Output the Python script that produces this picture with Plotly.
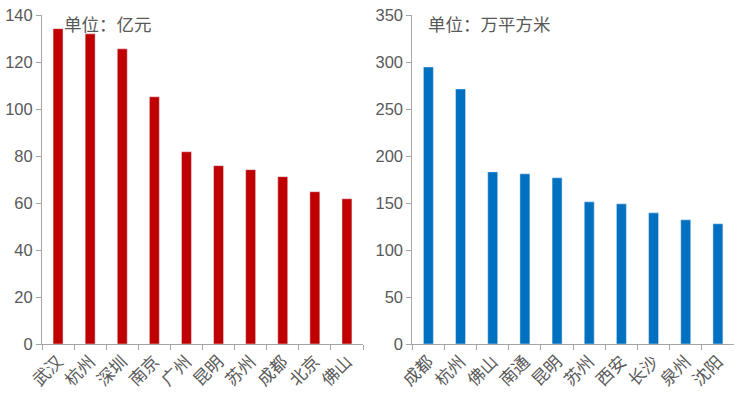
import plotly.graph_objects as go
from plotly.subplots import make_subplots

cities_left = ["武汉", "杭州", "深圳", "南京", "广州", "昆明", "苏州", "成都", "北京", "佛山"]
values_left = [134.2, 132.0, 125.6, 105.2, 81.8, 75.9, 74.2, 71.2, 64.8, 61.8]
cities_right = ["成都", "杭州", "佛山", "南通", "昆明", "苏州", "西安", "长沙", "泉州", "沈阳"]
values_right = [294.7, 271.3, 183.1, 181.0, 176.8, 151.2, 149.1, 139.5, 132.1, 127.9]
unit_left = "单位：亿元"
unit_right = "单位：万平方米"

FONT = "Liberation Sans, Arial, Noto Sans CJK SC, sans-serif"
GREY = "#595959"
AXIS = "#a6a6a6"

W, H = 745, 406
L, R, T, B = 42, 11, 15, 62
PW = W - L - R
PH = H - T - B

fig = make_subplots(rows=1, cols=2)
fig.add_trace(go.Bar(x=cities_left, y=values_left, marker_color="#c00000"), row=1, col=1)
fig.add_trace(go.Bar(x=cities_right, y=values_right, marker_color="#0070c0"), row=1, col=2)

fig.update_layout(
    width=W, height=H,
    margin=dict(l=L, r=R, t=T, b=B),
    plot_bgcolor="white", paper_bgcolor="white",
    showlegend=False, bargap=0.69,
    font=dict(family=FONT, size=16, color=GREY),
)
fig.update_xaxes(
    type="category", tickangle=-45, showline=True, linecolor=AXIS, linewidth=1,
    ticks="outside", tickson="boundaries", ticklen=5, tickcolor=AXIS,
    showgrid=False, tickfont=dict(size=17, color=GREY), automargin=False,
)
fig.update_yaxes(
    showline=True, linecolor=AXIS, linewidth=1, ticks="outside", ticklen=5,
    tickcolor=AXIS, showgrid=False, zeroline=False, tickfont=dict(size=16.5, color=GREY),
    automargin=False,
)
fig.update_layout(
    xaxis=dict(domain=[0, (363 - L) / PW]),
    xaxis2=dict(domain=[(412.3 - L) / PW, 1]),
    yaxis=dict(range=[0, 140], dtick=20),
    yaxis2=dict(range=[0, 350], dtick=50),
)
ann_y = (H - B - 25) / PH
fig.add_annotation(text=unit_left, xref="paper", yref="paper", x=(62 - L) / PW, y=ann_y,
                   xanchor="left", yanchor="middle", showarrow=False, font=dict(size=17.5, color=GREY))
fig.add_annotation(text=unit_right, xref="paper", yref="paper", x=(426 - L) / PW, y=ann_y,
                   xanchor="left", yanchor="middle", showarrow=False, font=dict(size=17.5, color=GREY))
fig.write_html("out.html", config={"displayModeBar": False},
               post_script="document.body.style.margin='0';document.body.style.overflow='hidden';")
